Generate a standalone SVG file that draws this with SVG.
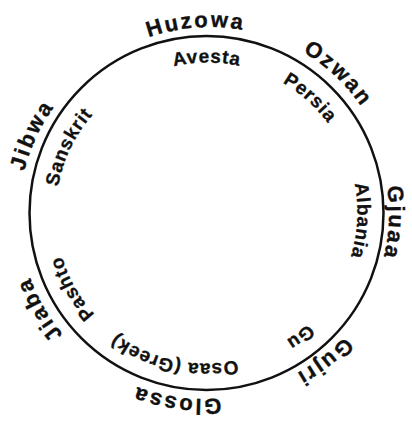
<svg xmlns="http://www.w3.org/2000/svg" xmlns:xlink="http://www.w3.org/1999/xlink" width="412" height="422" viewBox="0 0 412 422">
<style>
.outer{font-family:"Liberation Sans",Arial,sans-serif;font-weight:bold;font-size:22px;letter-spacing:2.3px;fill:#111;stroke:#111;stroke-width:0.35px;}
.inner{font-family:"Liberation Sans",Arial,sans-serif;font-weight:bold;font-size:19px;letter-spacing:0.8px;fill:#111;stroke:#111;stroke-width:0.3px;}
.ring{fill:none;stroke:#111;stroke-width:2.5;}
</style>
<defs>
<path id="po" d="M114.5,53.7 A184,184 0 1 1 298.5,372.3 A184,184 0 1 1 114.5,53.7"/>
<path id="pg" d="M115.25,54.95 A182.5,182.5 0 1 1 297.75,371.05 A182.5,182.5 0 1 1 115.25,54.95"/>
<path id="pi" d="M131.5,83.1 A150,150 0 1 1 281.5,342.9 A150,150 0 1 1 131.5,83.1"/>
</defs>
<rect width="412" height="422" fill="#fff"/>
<g id="connectors">
<circle class="ring" cx="206.5" cy="213" r="177"/>
</g>
<g id="huzowa"><text class="outer" text-anchor="middle"><textPath xlink:href="#po" href="#po" startOffset="7.36%">Huzowa</textPath></text></g>
<g id="ozwan"><text class="outer" text-anchor="middle"><textPath xlink:href="#po" href="#po" startOffset="20.36%">Ozwan</textPath></text></g>
<g id="gjuaa"><text class="outer" text-anchor="middle" font-size="21.5px"><textPath xlink:href="#pg" href="#pg" startOffset="34.17%">Gjuaa</textPath></text></g>
<g id="gujri"><text class="outer" text-anchor="middle"><textPath xlink:href="#po" href="#po" startOffset="47.69%">Gujri</textPath></text></g>
<g id="glossa"><text class="outer" text-anchor="middle"><textPath xlink:href="#po" href="#po" startOffset="60.75%">Glossa</textPath></text></g>
<g id="jiaba"><text class="outer" text-anchor="middle"><textPath xlink:href="#po" href="#po" startOffset="75.03%">Jiaba</textPath></text></g>
<g id="jibwa"><text class="outer" text-anchor="middle"><textPath xlink:href="#po" href="#po" startOffset="90.06%">Jibwa</textPath></text></g>
<g id="avesta"><text class="inner" text-anchor="middle"><textPath xlink:href="#pi" href="#pi" startOffset="8.33%">Avesta</textPath></text></g>
<g id="persia"><text class="inner" text-anchor="middle"><textPath xlink:href="#pi" href="#pi" startOffset="19.97%">Persia</textPath></text></g>
<g id="albania"><text class="inner" text-anchor="middle"><textPath xlink:href="#pi" href="#pi" startOffset="34.14%">Albania</textPath></text></g>
<g id="gu"><text class="inner" text-anchor="middle"><textPath xlink:href="#pi" href="#pi" startOffset="48.03%">Gu</textPath></text></g>
<g id="osaa"><text class="inner" text-anchor="middle"><textPath xlink:href="#pi" href="#pi" startOffset="61.81%">Osaa (Greek)</textPath></text></g>
<g id="pashto"><text class="inner" text-anchor="middle"><textPath xlink:href="#pi" href="#pi" startOffset="75.19%">Pashto</textPath></text></g>
<g id="sanskrit"><text class="inner" text-anchor="middle"><textPath xlink:href="#pi" href="#pi" startOffset="90.44%">Sanskrit</textPath></text></g>
</svg>
